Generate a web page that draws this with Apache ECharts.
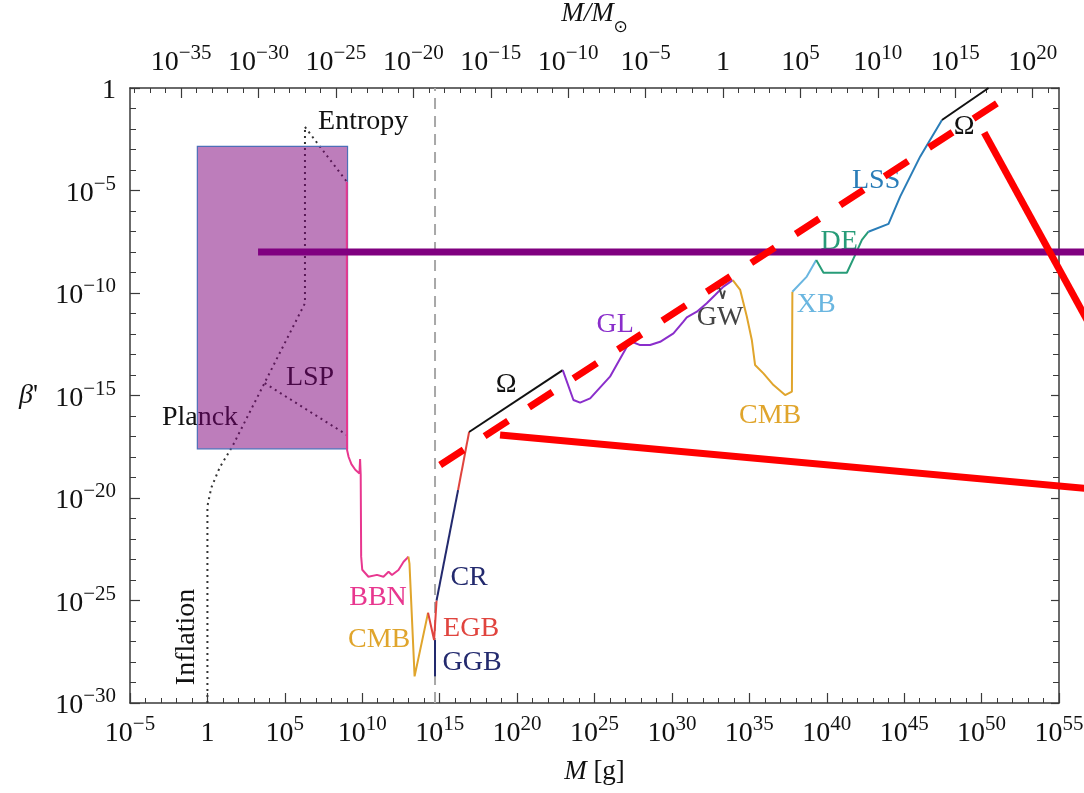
<!DOCTYPE html>
<html>
<head>
<meta charset="utf-8">
<script src="https://cdn.jsdelivr.net/npm/echarts@6/dist/echarts.min.js"></script>
<style>
  html, body { margin: 0; padding: 0; background: #fff; }
  #chart { width: 1084px; height: 793px; }
</style>
</head>
<body>
<div id="chart"></div>
<script>
// Every point is stored as base-10 exponents: [log10(M / g), log10(beta')]

// Axis ranges (exponents)
const X_RANGE = [-5, 55];
const Y_RANGE = [-30, 0];
const X_OVERLAY_MAX = 58;            // the trend lines run on past the frame
const LOG_MSUN = 33.3;               // log10 of the solar mass in grams
const TOP_TICKS_MAJOR = [-35, -30, -25, -20, -15, -10, -5, 0, 5, 10, 15, 20];
const TOP_TICKS_MINOR = [];
for (let i = -38; i <= 21; i++) TOP_TICKS_MINOR.push(i);

// Dotted theoretical limits
const planckInflation = [[0, -30], [0, -20.4], [0.25, -19.5], [0.8, -18.5], [1.6, -17.5], [6.3, -10.5], [6.3, -1.9]];
const entropy = [[6.3, -1.9], [9.0, -4.57]];
const lsp = [[3.7, -14.4], [9.02, -16.93]];

// Evaporation mass boundary
const evapBoundary = [[14.7, -30], [14.7, 0]];

// Observational constraints
const bbn = [[9.0, -4.57], [9.02, -17.66], [9.12, -18.0], [9.3, -18.35], [9.55, -18.62], [9.82, -18.8],
  [9.86, -18.1], [9.9, -18.85], [9.93, -22.86], [10.0, -23.5], [10.4, -23.84], [10.95, -23.75],
  [11.37, -23.84], [11.7, -23.6], [11.92, -23.76], [12.34, -23.51], [12.67, -23.11], [12.89, -22.94], [12.98, -22.86]];
const cmbLow = [[12.98, -22.86], [13.05, -23.2], [13.38, -28.7], [14.25, -25.6]];
const egb = [[14.25, -25.6], [14.64, -26.93], [14.8, -25.0]];
const ggb = [[14.7, -26.93], [14.7, -28.7]];
const cr = [[14.8, -25.0], [16.19, -19.61]];
const crUpper = [[16.19, -19.61], [16.9, -16.78]];
const omegaLow = [[16.9, -16.78], [22.95, -13.76]];
const gl = [[22.95, -13.76], [23.64, -15.22], [24.07, -15.35], [24.72, -15.14], [26.0, -14.08], [27.09, -12.62],
  [27.41, -12.38], [27.95, -12.54], [28.59, -12.54], [29.24, -12.38], [30.1, -11.97], [30.74, -11.4],
  [30.96, -11.19], [31.61, -10.91], [32.25, -10.5], [32.79, -10.1], [33.33, -9.69], [33.93, -9.37]];
const gw = [[32.9, -9.8], [33.05, -9.72], [33.28, -10.28], [33.42, -9.88]];
const cmbHigh = [[33.93, -9.37], [34.41, -9.85], [34.84, -11.16], [35.16, -12.29], [35.37, -13.51], [35.91, -13.92],
  [36.56, -14.49], [37.31, -14.98], [37.75, -14.81], [37.78, -9.94]];
const xb = [[37.78, -9.94], [38.71, -9.2], [39.32, -8.39]];
const de = [[39.32, -8.39], [39.79, -9.01], [41.3, -9.01], [41.83, -8.15], [42.27, -7.41], [42.69, -7.01]];
const lss = [[42.69, -7.01], [43.99, -6.63], [44.74, -5.3], [46.03, -3.35], [47.44, -1.56]];
const omegaHigh = [[47.44, -1.56], [50.45, 0]];

// Shaded region: [Mmin, betaMax, Mmax, betaMin]
const shadedBox = [[-0.65, -2.85, 9.05, -17.6]];

// Overlaid trend lines
const purpleLevel = [[3.27, -8.0], [58, -8.0]];
const redDashed = [[15.03, -18.39], [50.99, -0.75]];
const redSolidA = [[18.9, -16.93], [58, -19.62]];
const redSolidB = [[50.17, -2.18], [58, -12.96]];

// Annotations: [text, log10 M, log10 beta', colour, rotation]
const annotations = [
  ['Entropy', 10.06, -1.66, '#111', 0],
  ['LSP', 6.63, -14.15, '#111', 0],
  ['Planck', -0.48, -16.1, '#111', 0],
  ['Inflation', -1.32, -26.78, '#111', 90],
  ['BBN', 11.02, -24.88, '#e8378f', 0],
  ['CMB', 11.09, -26.93, '#e0a52c', 0],
  ['CR', 16.9, -23.9, '#232a6e', 0],
  ['EGB', 17.03, -26.39, '#e0443e', 0],
  ['GGB', 17.09, -28.05, '#232a6e', 0],
  ['Ω', 19.29, -14.49, '#111', 0],
  ['GL', 26.33, -11.56, '#8a2ecb', 0],
  ['GW', 33.11, -11.22, '#444', 0],
  ['CMB', 36.34, -16.0, '#e0a52c', 0],
  ['XB', 39.32, -10.59, '#6ab6e0', 0],
  ['DE', 40.8, -7.51, '#279c78', 0],
  ['LSS', 43.19, -4.54, '#2a7db8', 0],
  ['Ω', 48.88, -1.9, '#111', 0]
];

const FONT = 'Liberation Serif, Times New Roman, serif';
const AXIS_COLOR = '#3a3a3a';

// Frame geometry
const GRID_LEFT = 130, GRID_RIGHT = 25, GRID_TOP = 88, GRID_BOTTOM = 90, CHART_W = 1084;
const PX_PER_DECADE = (CHART_W - GRID_LEFT - GRID_RIGHT) / (X_RANGE[1] - X_RANGE[0]);
const OVERLAY_RIGHT = CHART_W - GRID_LEFT - PX_PER_DECADE * (X_OVERLAY_MAX - X_RANGE[0]);

function powLabel(v) {
  const n = Math.round(v);
  if (n === 0) return '{b|1}';
  return '{b|10}{s|' + String(n).replace('-', '\u2212') + '}';
}
const powRich = {
  b: { fontFamily: FONT, fontSize: 28, lineHeight: 34, color: '#111', verticalAlign: 'bottom' },
  s: { fontFamily: FONT, fontSize: 21, lineHeight: 21, color: '#111', verticalAlign: 'top' }
};

function curve(data, color, width, extra) {
  return Object.assign({
    type: 'line', data: data, symbol: 'none', silent: true, z: 4,
    lineStyle: { color: color, width: width || 2 }
  }, extra || {});
}

const chart = echarts.init(document.getElementById('chart'), null, { renderer: 'canvas' });

chart.setOption({
  animation: false,
  backgroundColor: '#fff',
  grid: [
    { left: GRID_LEFT, right: GRID_RIGHT, top: GRID_TOP, bottom: GRID_BOTTOM, containLabel: false, outerBoundsMode: 'none' },
    { left: GRID_LEFT, right: OVERLAY_RIGHT, top: GRID_TOP, bottom: GRID_BOTTOM, containLabel: false, outerBoundsMode: 'none' }
  ],
  xAxis: [
    {
      type: 'value', gridIndex: 0, position: 'bottom', min: X_RANGE[0], max: X_RANGE[1], interval: 5,
      name: '{i|M} [g]', nameLocation: 'middle', nameGap: 55,
      nameTextStyle: {
        fontFamily: FONT, fontSize: 27, color: '#111',
        rich: { i: { fontFamily: FONT, fontSize: 27, fontStyle: 'italic', color: '#111' } }
      },
      axisLine: { show: true, onZero: false, lineStyle: { color: AXIS_COLOR, width: 1.5 } },
      axisTick: { show: true, inside: true, length: 10, lineStyle: { color: AXIS_COLOR, width: 1.2 } },
      minorTick: { show: true, splitNumber: 5, length: 5, lineStyle: { color: AXIS_COLOR, width: 1 } },
      axisLabel: { margin: 11, formatter: powLabel, rich: powRich },
      splitLine: { show: false }
    },
    {
      type: 'value', gridIndex: 0, position: 'top', min: X_RANGE[0] - LOG_MSUN, max: X_RANGE[1] - LOG_MSUN,
      name: '{i|M/M}{sub|\u2299}', nameLocation: 'middle', nameGap: 52,
      nameTextStyle: {
        fontFamily: FONT, fontSize: 27, color: '#111',
        rich: {
          i: { fontFamily: FONT, fontSize: 27, fontStyle: 'italic', color: '#111', lineHeight: 30, verticalAlign: 'top' },
          sub: { fontFamily: 'DejaVu Sans, sans-serif', fontSize: 17, color: '#111', lineHeight: 36, verticalAlign: 'bottom' }
        }
      },
      axisLine: { show: true, onZero: false, lineStyle: { color: AXIS_COLOR, width: 1.5 } },
      axisTick: { show: true, inside: true, length: 5, customValues: TOP_TICKS_MINOR, lineStyle: { color: AXIS_COLOR, width: 1 } },
      axisLabel: { margin: 11, customValues: TOP_TICKS_MAJOR, formatter: powLabel, rich: powRich, hideOverlap: false },
      splitLine: { show: false }
    },
    {
      type: 'value', gridIndex: 0, position: 'top', min: X_RANGE[0] - LOG_MSUN, max: X_RANGE[1] - LOG_MSUN,
      axisLine: { show: false, onZero: false },
      axisTick: { show: true, inside: true, length: 10, customValues: TOP_TICKS_MAJOR, lineStyle: { color: AXIS_COLOR, width: 1.2 } },
      axisLabel: { show: false },
      splitLine: { show: false }
    },
    {
      // same scale as the main axis, widened so the trend lines can leave the frame
      type: 'value', gridIndex: 1, position: 'bottom', min: X_RANGE[0], max: X_OVERLAY_MAX,
      show: false, splitLine: { show: false }
    }
  ],
  yAxis: [
    {
      type: 'value', gridIndex: 0, position: 'left', min: Y_RANGE[0], max: Y_RANGE[1], interval: 5,
      name: '{i|\u03b2}\'', nameLocation: 'middle', nameGap: 92, nameRotate: 0,
      nameTextStyle: {
        fontFamily: FONT, fontSize: 28, color: '#111',
        rich: { i: { fontFamily: FONT, fontSize: 28, fontStyle: 'italic', color: '#111' } }
      },
      axisLine: { show: true, onZero: false, lineStyle: { color: AXIS_COLOR, width: 1.5 } },
      axisTick: { show: true, inside: true, length: 10, lineStyle: { color: AXIS_COLOR, width: 1.2 } },
      minorTick: { show: true, splitNumber: 5, length: 6, lineStyle: { color: AXIS_COLOR, width: 1 } },
      axisLabel: { margin: 14, formatter: powLabel, rich: powRich },
      splitLine: { show: false }
    },
    {
      type: 'value', gridIndex: 0, position: 'right', min: Y_RANGE[0], max: Y_RANGE[1], interval: 5,
      axisLine: { show: true, onZero: false, lineStyle: { color: AXIS_COLOR, width: 1.5 } },
      axisTick: { show: true, inside: true, length: 8, lineStyle: { color: AXIS_COLOR, width: 1.2 } },
      minorTick: { show: true, splitNumber: 5, length: 6, lineStyle: { color: AXIS_COLOR, width: 1 } },
      axisLabel: { show: false },
      splitLine: { show: false }
    },
    {
      type: 'value', gridIndex: 1, min: Y_RANGE[0], max: Y_RANGE[1], show: false, splitLine: { show: false }
    }
  ],
  series: [
    curve(planckInflation, '#333', 2, { z: 1, lineStyle: { color: '#333', width: 2, type: [2, 4] } }),
    curve(entropy, '#333', 2, { z: 1, lineStyle: { color: '#333', width: 2, type: [2, 4] } }),
    curve(lsp, '#333', 2, { z: 1, lineStyle: { color: '#333', width: 2, type: [2, 4] } }),
    curve(evapBoundary, '#aaa', 2, { z: 1, lineStyle: { color: '#a8a8a8', width: 2, type: [11, 7] } }),
    {
      type: 'scatter', z: 2, silent: true, symbol: 'circle', symbolSize: 2,
      itemStyle: { color: 'rgba(0,0,0,0)', opacity: 1 },
      data: annotations.map(a => ({
        value: [a[1], a[2]], name: a[0],
        label: {
          show: true, position: 'inside', formatter: a[0], color: a[3], opacity: 1, rotate: a[4],
          fontFamily: FONT, fontSize: 28, align: 'center', verticalAlign: 'middle'
        }
      }))
    },
    {
      type: 'custom', z: 3, silent: true, data: shadedBox,
      renderItem: (params, api) => {
        const p0 = api.coord([api.value(0), api.value(1)]);
        const p1 = api.coord([api.value(2), api.value(3)]);
        return {
          type: 'rect',
          shape: { x: p0[0], y: p0[1], width: p1[0] - p0[0], height: p1[1] - p0[1] },
          style: { fill: 'rgba(126,0,122,0.51)', stroke: '#4d6fb8', lineWidth: 1.2 }
        };
      }
    },
    curve(bbn, '#e8378f'),
    curve(cmbLow, '#e0a52c'),
    curve(egb, '#e0443e'),
    curve(ggb, '#232a6e'),
    curve(cr, '#232a6e'),
    curve(crUpper, '#e0443e'),
    curve(omegaLow, '#111'),
    curve(gl, '#8a2ecb'),
    curve(gw, '#444'),
    curve(cmbHigh, '#e0a52c'),
    curve(xb, '#6ab6e0'),
    curve(de, '#279c78'),
    curve(lss, '#2a7db8'),
    curve(omegaHigh, '#111'),
    curve(purpleLevel, '#800080', 7, { z: 5, xAxisIndex: 3, yAxisIndex: 2 }),
    curve(redDashed, '#ff0000', 7, { z: 6, xAxisIndex: 3, yAxisIndex: 2, lineStyle: { color: '#ff0000', width: 7, type: [28, 25] } }),
    curve(redSolidA, '#ff0000', 7, { z: 6, xAxisIndex: 3, yAxisIndex: 2 }),
    curve(redSolidB, '#ff0000', 7, { z: 6, xAxisIndex: 3, yAxisIndex: 2 })
  ]
});
</script>
</body>
</html>
